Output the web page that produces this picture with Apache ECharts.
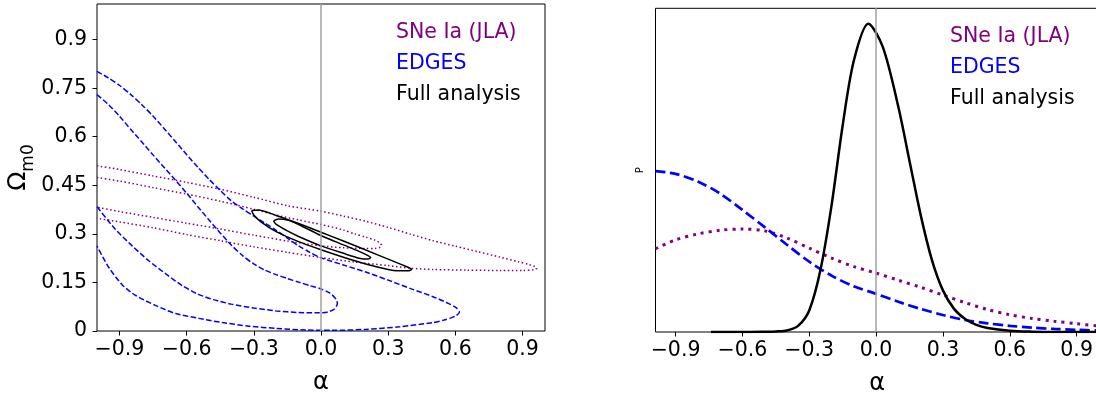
<!DOCTYPE html>
<html><head><meta charset="utf-8">
<script src="https://cdn.jsdelivr.net/npm/echarts@6/dist/echarts.min.js"></script>
<style>html,body{margin:0;padding:0;background:#fff}#c{width:1096px;height:394px}</style>
</head><body><div id="c"></div>
<script>
const xTicks = [-0.9, -0.6, -0.3, 0, 0.3, 0.6, 0.9];
const yTicksLeft = [0, 0.15, 0.3, 0.45, 0.6, 0.75, 0.9];
const legendNames = ['SNe Ia (JLA)', 'EDGES', 'Full analysis'];

// left panel: 2D confidence contours [alpha, Omega_m0]
const jlaOuter = [[-1.0,0.510],[-0.9,0.499],[-0.75,0.479],[-0.6,0.459],[-0.45,0.438],[-0.3,0.413],[-0.15,0.387],[0,0.370],[0.1,0.355],[0.2,0.339],[0.3,0.320],[0.4,0.299],[0.5,0.279],[0.6,0.262],[0.7,0.245],[0.8,0.228],[0.88,0.214],[0.93,0.205],[0.955,0.199],[0.963,0.194],[0.95,0.189],[0.9,0.187],[0.8,0.187],[0.65,0.188],[0.5,0.190],[0.4,0.194],[0.3,0.202],[0.15,0.213],[0,0.227],[-0.15,0.243],[-0.3,0.260],[-0.45,0.279],[-0.6,0.298],[-0.75,0.319],[-0.9,0.337],[-1.0,0.348]];
const jlaInner = [[-1.0,0.474],[-0.9,0.463],[-0.75,0.443],[-0.6,0.423],[-0.45,0.401],[-0.3,0.376],[-0.2,0.358],[-0.1,0.343],[0,0.329],[0.1,0.312],[0.15,0.300],[0.2,0.290],[0.24,0.281],[0.262,0.273],[0.27,0.265],[0.262,0.258],[0.24,0.255],[0.2,0.255],[0.1,0.257],[0,0.263],[-0.15,0.278],[-0.3,0.296],[-0.45,0.315],[-0.6,0.333],[-0.75,0.351],[-0.9,0.369],[-1.0,0.382]];
const edgesOuter = [[-1.0,0.802],[-0.95,0.782],[-0.9,0.759],[-0.85,0.731],[-0.8,0.699],[-0.75,0.664],[-0.7,0.625],[-0.65,0.585],[-0.6,0.545],[-0.55,0.506],[-0.5,0.469],[-0.45,0.434],[-0.4,0.402],[-0.35,0.377],[-0.3,0.355],[-0.25,0.333],[-0.2,0.311],[-0.15,0.287],[-0.1,0.263],[-0.05,0.243],[0,0.226],[0.1,0.204],[0.2,0.182],[0.3,0.157],[0.4,0.131],[0.5,0.106],[0.56,0.088],[0.603,0.072],[0.618,0.059],[0.6,0.046],[0.55,0.034],[0.5,0.026],[0.35,0.013],[0.2,0.005],[0.05,0.002],[-0.066,0.003],[-0.2,0.008],[-0.321,0.015],[-0.44,0.026],[-0.545,0.039],[-0.649,0.054],[-0.739,0.079],[-0.828,0.110],[-0.888,0.143],[-0.948,0.197],[-1.0,0.262]];
const edgesInner = [[-1.0,0.730],[-0.95,0.700],[-0.9,0.664],[-0.85,0.623],[-0.8,0.584],[-0.75,0.544],[-0.7,0.505],[-0.65,0.466],[-0.6,0.426],[-0.55,0.384],[-0.5,0.343],[-0.45,0.303],[-0.4,0.265],[-0.35,0.233],[-0.3,0.207],[-0.25,0.188],[-0.2,0.174],[-0.15,0.162],[-0.1,0.151],[-0.05,0.140],[0,0.130],[0.04,0.117],[0.065,0.100],[0.073,0.085],[0.06,0.068],[0.03,0.059],[-0.01,0.056],[-0.1,0.057],[-0.2,0.062],[-0.3,0.071],[-0.4,0.083],[-0.48,0.097],[-0.55,0.114],[-0.619,0.140],[-0.694,0.177],[-0.769,0.217],[-0.843,0.263],[-0.918,0.314],[-1.0,0.384]];
const fullOuter = [[-0.31,0.372],[-0.28,0.374],[-0.2,0.357],[-0.1,0.332],[0,0.305],[0.1,0.278],[0.2,0.250],[0.3,0.222],[0.36,0.205],[0.395,0.195],[0.405,0.190],[0.39,0.186],[0.34,0.186],[0.3,0.190],[0.2,0.207],[0.1,0.228],[0,0.251],[-0.1,0.276],[-0.2,0.307],[-0.27,0.338],[-0.3,0.358],[-0.31,0.372]];
const fullInner = [[-0.212,0.340],[-0.19,0.346],[-0.15,0.343],[-0.1,0.329],[0,0.295],[0.1,0.266],[0.17,0.246],[0.21,0.233],[0.222,0.227],[0.21,0.222],[0.17,0.225],[0.1,0.240],[0,0.263],[-0.1,0.292],[-0.15,0.309],[-0.2,0.329],[-0.212,0.340]];

// right panel: 1D posteriors [alpha, P]
const jla1d = [[-0.99,0.270],[-0.9,0.299],[-0.8,0.318],[-0.7,0.330],[-0.6,0.334],[-0.5,0.328],[-0.4,0.305],[-0.3,0.272],[-0.2,0.240],[-0.1,0.212],[0,0.191],[0.1,0.168],[0.2,0.145],[0.3,0.120],[0.4,0.095],[0.5,0.073],[0.6,0.056],[0.7,0.044],[0.8,0.035],[0.9,0.027],[1.0,0.019]];
const edges1d = [[-0.99,0.522],[-0.9,0.513],[-0.8,0.488],[-0.7,0.449],[-0.6,0.396],[-0.5,0.340],[-0.4,0.283],[-0.3,0.228],[-0.2,0.183],[-0.1,0.148],[0,0.124],[0.1,0.098],[0.2,0.075],[0.3,0.055],[0.4,0.039],[0.5,0.028],[0.6,0.020],[0.7,0.014],[0.8,0.010],[0.9,0.007],[1.0,0.005]];
const full1d = [[-0.741,0],[-0.6,0],[-0.5,0.001],[-0.45,0.002],[-0.4,0.005],[-0.35,0.02],[-0.3,0.07],[-0.25,0.2],[-0.2,0.41],[-0.15,0.67],[-0.1,0.88],[-0.035,1.0],[0.03,0.925],[0.1,0.73],[0.15,0.555],[0.2,0.38],[0.25,0.235],[0.3,0.135],[0.35,0.075],[0.4,0.042],[0.45,0.023],[0.5,0.013],[0.6,0.004],[0.7,0.001],[0.8,0],[1.0,0]];

const FONT = 'DejaVu Sans';
const C_JLA = '#800080', C_EDG = '#0000ff', C_FULL = '#000000';
const fmtX = v => (v < 0 ? '\u2212' : '') + Math.abs(v).toFixed(1);
const fmtY = v => String(v);

function xAxisCfg(gridIndex, min, max) {
  return {
    type: 'value', gridIndex, min, max,
    name: '\u03b1', nameLocation: 'middle', nameGap: 40,
    nameTextStyle: { fontFamily: FONT, fontSize: 24, color: '#000' },
    axisLine: { show: false, onZero: false },
    axisTick: { show: true, inside: false, length: 4.5, customValues: xTicks, lineStyle: { color: '#000', width: 1 } },
    axisLabel: { show: true, customValues: xTicks, formatter: fmtX, margin: 8.5, fontFamily: FONT, fontSize: 20.5, color: '#000' },
    splitLine: { show: false }
  };
}

const lineSeries = (name, data, xi, color, width, type, z) => ({
  type: 'line', name, data, xAxisIndex: xi, yAxisIndex: xi,
  showSymbol: false, symbol: 'none', smooth: 0.25, clip: true, z,
  lineStyle: { color, width, type, cap: 'butt' }, silent: true
});

const vline = {
  silent: true, symbol: 'none', label: { show: false },
  lineStyle: { color: '#a0a0a0', width: 1.5, type: 'solid' },
  data: [{ xAxis: 0 }]
};

const legendText = (x, y0, gap) => legendNames.map((t, i) => ({
  type: 'text', left: x, top: y0 + i * gap,
  style: { text: t, fontFamily: FONT, fontSize: 20.5, fill: [C_JLA, C_EDG, C_FULL][i] }
}));

const option = {
  animation: false,
  backgroundColor: '#fff',
  grid: [
    { left: 97, top: 4, width: 448, height: 327, outerBoundsMode: 'none', containLabel: false, show: true, borderColor: '#000', borderWidth: 1, backgroundColor: 'transparent' },
    { left: 655.5, top: 8.3, width: 443.4, height: 323.7, outerBoundsMode: 'none', containLabel: false, show: true, borderColor: '#000', borderWidth: 1, backgroundColor: 'transparent' }
  ],
  xAxis: [ xAxisCfg(0, -1, 1), xAxisCfg(1, -0.99, 1.0) ],
  yAxis: [
    { type: 'value', gridIndex: 0, min: 0, max: 1.01,
      name: '{o|\u03a9}{s|m0}', nameLocation: 'middle', nameGap: 57, nameRotate: 90,
      nameTextStyle: { fontFamily: FONT, color: '#000', rich: {
        o: { fontFamily: FONT, fontSize: 25, lineHeight: 25, verticalAlign: 'bottom', padding: [0, 0, 6, 0], color: '#000' },
        s: { fontFamily: FONT, fontSize: 17, lineHeight: 17, verticalAlign: 'bottom', color: '#000' } } },
      axisLine: { show: false, onZero: false },
      axisTick: { show: true, inside: false, length: 4.5, customValues: yTicksLeft, lineStyle: { color: '#000', width: 1 } },
      axisLabel: { show: true, customValues: yTicksLeft, formatter: fmtY, margin: 10, fontFamily: FONT, fontSize: 20.5, color: '#000' },
      splitLine: { show: false } },
    { type: 'value', gridIndex: 1, min: 0, max: 1.05,
      name: 'P', nameLocation: 'middle', nameGap: 10, nameRotate: 90,
      nameTextStyle: { fontFamily: FONT, fontSize: 10, color: '#000' },
      axisLine: { show: false, onZero: false }, axisTick: { show: false }, axisLabel: { show: false }, splitLine: { show: false } }
  ],
  series: [
    Object.assign(lineSeries(legendNames[0], jlaOuter, 0, C_JLA, 1.5, [1.5, 2.5], 2), { markLine: vline }),
    lineSeries(legendNames[0], jlaInner, 0, C_JLA, 1.5, [1.5, 2.5], 2),
    lineSeries(legendNames[1], edgesOuter, 0, C_EDG, 1.5, [5.5, 2.4], 3),
    lineSeries(legendNames[1], edgesInner, 0, C_EDG, 1.5, [5.5, 2.4], 3),
    lineSeries(legendNames[2], fullOuter, 0, C_FULL, 1.5, 'solid', 4),
    lineSeries(legendNames[2], fullInner, 0, C_FULL, 1.5, 'solid', 4),
    Object.assign(lineSeries(legendNames[0], jla1d, 1, C_JLA, 3, [3, 5], 2), { smooth: 0.3, markLine: vline }),
    Object.assign(lineSeries(legendNames[1], edges1d, 1, C_EDG, 2.7, [10, 4.5], 3), { smooth: 0.3 }),
    Object.assign(lineSeries(legendNames[2], full1d, 1, C_FULL, 2.5, 'solid', 4), { smooth: 0.3 })
  ],
  graphic: [ ...legendText(396, 22, 31), ...legendText(950, 26.5, 31) ]
};

const chart = echarts.init(document.getElementById('c'), null, { renderer: 'canvas' });
chart.setOption(option);
</script>
</body></html>
